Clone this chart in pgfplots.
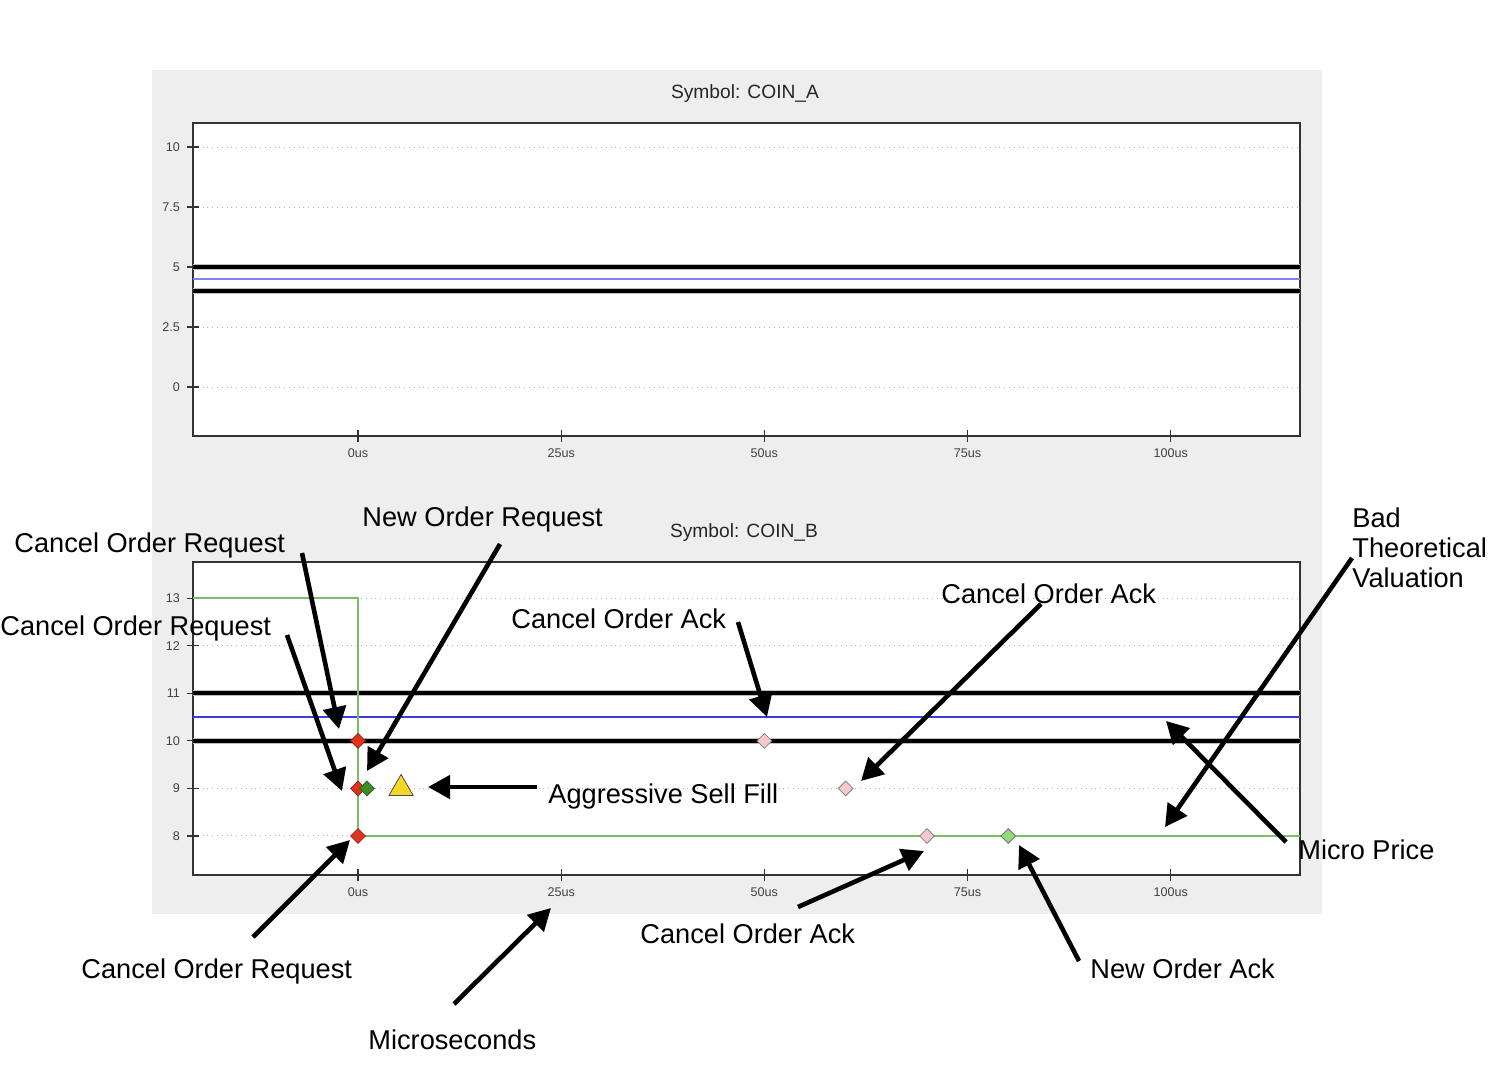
\documentclass[border=0pt]{standalone}
\usepackage{fontspec}
\setmainfont{Liberation Sans}
\usepackage{pgfplots}
\pgfplotsset{compat=1.18}
\usetikzlibrary{arrows.meta}
\definecolor{bggray}{RGB}{238,238,238}
\definecolor{mred}{RGB}{222,52,30}
\definecolor{mgreen}{RGB}{60,140,40}
\definecolor{mpink}{RGB}{248,200,206}
\definecolor{mlgreen}{RGB}{140,220,120}
\definecolor{myellow}{RGB}{246,214,38}
\definecolor{stepgreen}{RGB}{120,190,100}
\definecolor{blueA}{RGB}{130,130,240}
\definecolor{blueB}{RGB}{60,60,225}
\pgfplotsset{
  panel/.style={
    anchor=south west, scale only axis, width=553.5pt, height=156.5pt,
    xmin=-20.3, xmax=115.9,
    axis background/.style={fill=white},
    axis line style={black!80, line width=0.6pt},
    xtick={0,25,50,75,100}, xticklabels={0us,25us,50us,75us,100us},
    xtick pos=lower, ytick pos=left,
    tick align=center, major tick length=6pt,
    tick style={black!80, line width=0.6pt},
    x tick label style={font=\fontsize{6.3}{7}\selectfont, text=black!75},
    y tick label style={font=\fontsize{6.3}{7}\selectfont, text=black!75},
    ymajorgrids, grid style={dotted, black!30, line width=0.5pt},
    /pgf/number format/assume math mode=true,
  },
  thick black/.style={black, line width=2.2pt},
  halo/.style={gray!50, line width=3.2pt, forget plot},
}
\tikzset{arr/.style={line width=2.3pt, -{Triangle[length=11pt,width=11.5pt]}},
  lab/.style={anchor=base west, inner sep=0pt, font=\fontsize{13.6}{16}\selectfont}}
\begin{document}
\begin{tikzpicture}[x=0.5pt,y=0.5pt]
\path[fill=white, use as bounding box] (0,0) rectangle (1504,1078);
\fill[bggray] (152,1078-914) rectangle (1322,1078-70);
% top panel
\begin{axis}[panel, at={(96.5pt,321pt)}, ymin=-2.04, ymax=11.0, ytick={0,2.5,5,7.5,10}]
\addplot[halo] coordinates {(-20.3,5) (115.9,5)};
\addplot[thick black] coordinates {(-20.3,5) (115.9,5)};
\addplot[halo] coordinates {(-20.3,4) (115.9,4)};
\addplot[thick black] coordinates {(-20.3,4) (115.9,4)};
\addplot[blueA, line width=1pt] coordinates {(-20.3,4.5) (115.9,4.5)};
\end{axis}
% bottom panel
\begin{axis}[panel, at={(96.5pt,101.5pt)}, ymin=7.18, ymax=13.76, ytick={8,9,10,11,12,13}]
\addplot[halo] coordinates {(-20.3,11) (115.9,11)};
\addplot[thick black] coordinates {(-20.3,11) (115.9,11)};
\addplot[halo] coordinates {(-20.3,10) (115.9,10)};
\addplot[thick black] coordinates {(-20.3,10) (115.9,10)};
\addplot[blueB, line width=0.6pt] coordinates {(-20.3,10.5) (115.9,10.5)};
\addplot[stepgreen, line width=0.9pt] coordinates {(-20.3,13) (0,13) (0,8) (115.9,8)};
\addplot[only marks, mark=square*, mark size=2.6pt, mark options={rotate=45, fill=mred, draw=mred!70!black, line width=0.4pt}] coordinates {(0,10) (0,9) (0,8)};
\addplot[only marks, mark=square*, mark size=2.6pt, mark options={rotate=45, fill=mgreen, draw=mgreen!70!black, line width=0.4pt}] coordinates {(1.1,9)};
\addplot[only marks, mark=square*, mark size=2.6pt, mark options={rotate=45, fill=mpink, draw=gray, line width=0.4pt}] coordinates {(50,10) (60,9) (70,8)};
\addplot[only marks, mark=square*, mark size=2.6pt, mark options={rotate=45, fill=mlgreen, draw=gray!80!black, line width=0.4pt}] coordinates {(80,8)};
\addplot[only marks, mark=triangle*, mark size=7pt, mark options={fill=myellow, draw=black!70, line width=0.4pt}] coordinates {(5.3,9)};
\end{axis}
% titles
\node[font=\fontsize{9.6}{11}\selectfont, text=black!85] at (745,1078-94) {Symbol: COIN\_A};
\node[font=\fontsize{9.6}{11}\selectfont, text=black!85] at (744,1078-533) {Symbol: COIN\_B};
% annotations
\node[lab] at (14,1078-552) {Cancel Order Request};
\draw[arr] (302,1078-553) -- (339,1078-729);
\node[lab] at (0,1078-635) {Cancel Order Request};
\draw[arr] (287,1078-635) -- (342,1078-791);
\node[lab] at (362,1078-526) {New Order Request};
\draw[arr] (500,1078-544) -- (367,1078-771);
\node[lab] at (511,1078-628) {Cancel Order Ack};
\draw[arr] (738,1078-622) -- (767,1078-717);
\node[lab] at (941,1078-603) {Cancel Order Ack};
\draw[arr] (1041,1078-604) -- (861,1078-781);
\node[lab] at (548,1078-803) {Aggressive Sell Fill};
\draw[arr] (537,1078-787) -- (428,1078-787);
\node[lab] at (1352,1078-527) {Bad};
\node[lab] at (1352,1078-557) {Theoretical};
\node[lab] at (1352,1078-587) {Valuation};
\draw[arr] (1352,1078-558) -- (1165,1078-827);
\node[lab] at (1298,1078-859) {Micro Price};
\draw[arr] (1286,1078-842) -- (1166,1078-721);
\node[lab] at (640,1078-943) {Cancel Order Ack};
\draw[arr] (798,1078-907) -- (924,1078-851);
\node[lab] at (1090,1078-978) {New Order Ack};
\draw[arr] (1079,1078-961) -- (1019,1078-845);
\node[lab] at (81,1078-978) {Cancel Order Request};
\draw[arr] (253,1078-937) -- (350,1078-840);
\node[lab] at (368,1078-1049) {Microseconds};
\draw[arr] (454,1078-1004) -- (551,1078-908);
\end{tikzpicture}
\end{document}
